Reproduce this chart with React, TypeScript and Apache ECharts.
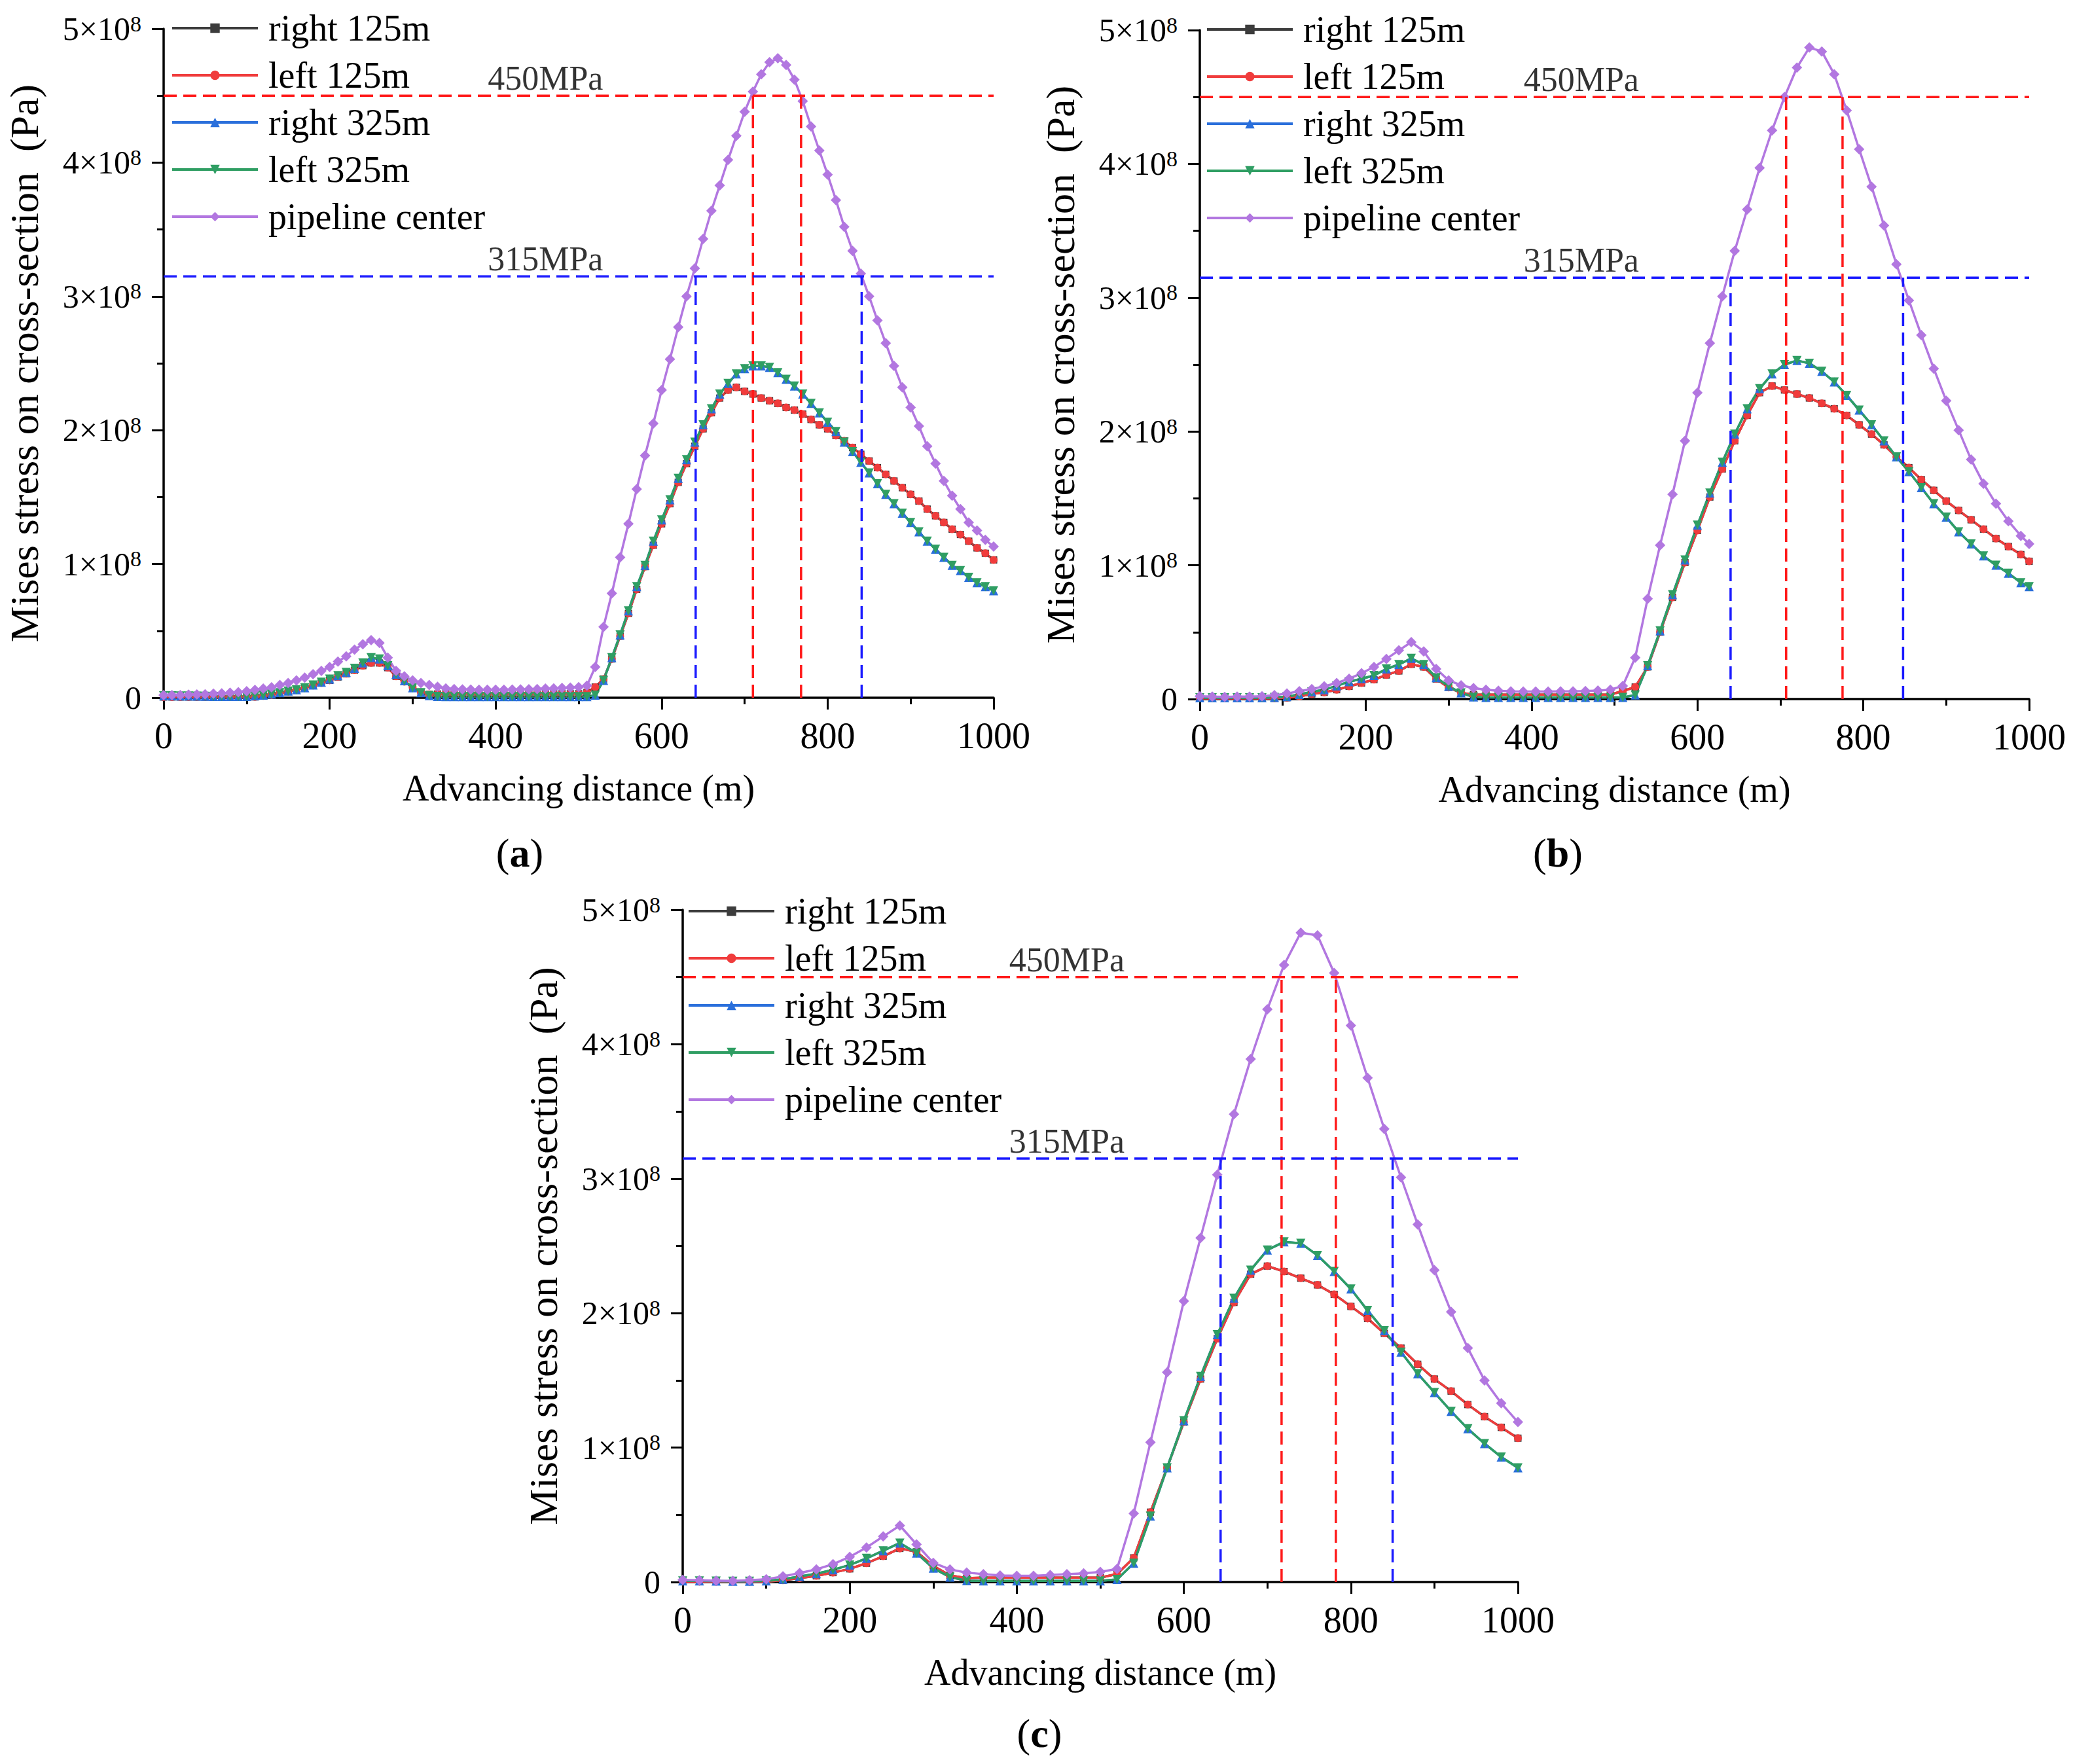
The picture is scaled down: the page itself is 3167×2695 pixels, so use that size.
import React, { useEffect, useRef } from "react";
import * as echarts from "echarts";

const FONT = "Liberation Serif";
const MPA = 1e6;

const seriesNames = ["right 125m", "left 125m", "right 325m", "left 325m", "pipeline center"];

// panel (a): sampled every 10 m, values in MPa
const distA = [
  0, 10, 20, 30, 40, 50, 60, 70, 80, 90,
  100, 110, 120, 130, 140, 150, 160, 170, 180, 190,
  200, 210, 220, 230, 240, 250, 260, 270, 280, 290,
  300, 310, 320, 330, 340, 350, 360, 370, 380, 390,
  400, 410, 420, 430, 440, 450, 460, 470, 480, 490,
  500, 510, 520, 530, 540, 550, 560, 570, 580, 590,
  600, 610, 620, 630, 640, 650, 660, 670, 680, 690,
  700, 710, 720, 730, 740, 750, 760, 770, 780, 790,
  800, 810, 820, 830, 840, 850, 860, 870, 880, 890,
  900, 910, 920, 930, 940, 950, 960, 970, 980, 990,
  1000,
];
const centerA = [
  2, 2, 2, 2.3, 2.5, 2.6, 3, 3.3, 3.8, 4.2,
  4.9, 5.9, 6.9, 7.8, 9.5, 11, 13, 15, 17.6, 20,
  23, 27, 31, 36, 40, 43, 41, 30, 20, 16,
  13, 11, 9.5, 8.2, 7, 6.5, 6.2, 6.1, 6, 6,
  6, 6, 6.1, 6.2, 6.3, 6.5, 6.8, 7, 7.3, 7.6,
  8, 9, 23, 53, 78, 105, 130, 156, 181, 205,
  230, 253, 277, 300, 321, 343, 364, 383, 402, 420,
  438, 453, 466, 475, 478, 473, 462, 446, 427, 409,
  391, 372, 352, 334, 317, 300, 282, 265, 248, 232,
  217, 203, 188, 175, 162, 151, 141, 131, 125, 118,
  113,
];
const left125A = [
  0.5, 0.5, 0.5, 0.5, 0.5, 0.5, 0.5, 0.5, 0.5, 0.5,
  0.5, 0.6, 1.3, 2, 3.3, 4.6, 5.9, 7.5, 9.2, 11,
  13, 15.5, 18, 20.6, 24, 26, 26, 22.5, 16, 12,
  7.8, 4.2, 2.5, 2.8, 3, 3, 3, 3, 3, 3,
  3, 3, 3, 3, 3, 3, 3, 3, 3, 3,
  3, 4, 8, 14, 29, 46, 63, 81, 98, 114,
  130, 145, 161, 175, 188, 201, 213, 224, 230, 232,
  229, 227, 224, 222, 220, 217, 215, 212, 208, 204,
  201, 196, 192, 187, 182, 177, 172, 167, 162, 157,
  152, 147, 141, 136, 131, 126, 122, 117, 112, 108,
  103,
];
const left325A = [
  1.5, 1.5, 1.4, 1.3, 1.2, 1.1, 1, 1, 1, 1,
  1, 1.5, 2, 2.8, 3.8, 5, 6, 7.5, 9.5, 11.6,
  14, 16.5, 19, 22, 26, 30, 29, 24, 17.6, 12.7,
  7.5, 3.8, 1.6, 1, 0.8, 0.8, 0.8, 0.8, 0.8, 0.8,
  0.8, 0.8, 0.8, 0.8, 0.8, 0.8, 0.8, 0.8, 0.8, 0.8,
  0.8, 0.8, 2, 13, 30, 47, 65, 83, 99, 117,
  133, 148, 164, 178, 191, 204, 216, 227, 235, 242,
  246, 248, 248, 247, 243, 238, 233, 227, 220, 213,
  206, 199, 191, 184, 176, 168, 160, 152, 145, 138,
  131, 124, 117, 111, 105, 99, 95, 90, 86, 83,
  80,
];
// right-side curves lie under the left-side ones in the figure
const right125A = left125A;
const right325A = left325A;
const cross315A = [641, 841];
const cross450A = [710, 768];

// panel (b): sampled every 15 m
const distB = [
  0, 15, 30, 45, 60, 75, 90, 105, 120, 135,
  150, 165, 180, 195, 210, 225, 240, 255, 270, 285,
  300, 315, 330, 345, 360, 375, 390, 405, 420, 435,
  450, 465, 480, 495, 510, 525, 540, 555, 570, 585,
  600, 615, 630, 645, 660, 675, 690, 705, 720, 735,
  750, 765, 780, 795, 810, 825, 840, 855, 870, 885,
  900, 915, 930, 945, 960, 975, 990, 1000,
];
const centerB = [
  2.1, 1.8, 1.6, 1.8, 1.8, 2.1, 2.9, 4.1, 5.9, 7.5,
  9.5, 12, 15.2, 19.3, 24, 30, 36.4, 42.6, 35.6, 22.5,
  14, 10.3, 8.2, 7, 6.2, 5.7, 5.6, 5.6, 5.6, 5.7,
  5.8, 6, 6.3, 7, 9.8, 31, 75, 115, 153, 193,
  229, 266, 301, 335, 366, 397, 425, 450, 472, 487,
  484, 467, 440, 411, 383, 354, 325, 298, 272, 247,
  223, 201, 179, 161, 146, 133, 122, 116,
];
const left125B = [
  0.5, 0.5, 0.5, 0.5, 0.5, 0.5, 0.5, 1, 2, 3.8,
  5, 7, 9.5, 12, 14.5, 18, 21, 26, 24, 15,
  8.7, 4.6, 3.3, 3.3, 3.3, 3.3, 3.3, 3.3, 3.3, 3.3,
  3.3, 3.3, 3.3, 3.3, 6, 9, 24, 50, 76, 102,
  126, 151, 172, 193, 212, 229, 234, 231, 228, 225,
  221, 217, 212, 205, 198, 190, 181, 173, 164, 156,
  148, 141, 134, 127, 120, 114, 108, 103,
];
const left325B = [
  1, 1, 1, 1, 1, 1, 1.2, 1.8, 3.4, 5.4,
  7, 9.8, 13, 15.2, 17.6, 22.5, 25.8, 30.4, 25.8, 16,
  9.5, 4.6, 1.6, 1.2, 1.2, 1.2, 1.2, 1.2, 1.2, 1.2,
  1.2, 1.2, 1.2, 1.2, 1.2, 3, 25, 51, 78, 104,
  130, 154, 177, 198, 217, 232, 243, 250, 253, 251,
  245, 237, 227, 216, 205, 193, 181, 170, 158, 146,
  136, 125, 116, 107, 100, 94, 87, 84,
];
const right125B = left125B;
const right325B = left325B;
const cross315B = [640, 848];
const cross450B = [707, 775];

// panel (c): sampled every 20 m
const distC = [
  0, 20, 40, 60, 80, 100, 120, 140, 160, 180,
  200, 220, 240, 260, 280, 300, 320, 340, 360, 380,
  400, 420, 440, 460, 480, 500, 520, 540, 560, 580,
  600, 620, 640, 660, 680, 700, 720, 740, 760, 780,
  800, 820, 840, 860, 880, 900, 920, 940, 960, 980,
  1000,
];
const centerC = [
  1.6, 1.3, 1, 0.8, 1.3, 2.1, 4.2, 6.7, 9.4, 13.3,
  18.7, 25.7, 33.9, 42, 28, 14.3, 9.4, 7, 5.9, 4.9,
  4.6, 4.6, 5.2, 5.9, 6.5, 7.5, 9.7, 51, 104, 156,
  209, 256, 303, 348, 389, 426, 459, 483, 481, 453,
  414, 375, 337, 301, 266, 232, 201, 174, 150, 133,
  119,
];
const left125C = [
  0.3, 0.3, 0.3, 0.3, 0.3, 0.3, 1.3, 2.9, 4.6, 7,
  9.8, 14, 19.2, 25, 22.5, 12, 4.9, 2.9, 3.3, 3.3,
  3.3, 3.3, 3.3, 3.3, 3.3, 3.3, 6, 18, 52, 85,
  119, 151, 181, 208, 229, 235, 231, 226, 221, 214,
  205, 196, 185, 174, 162, 151, 142, 132, 123, 115,
  107,
];
const left325C = [
  0.8, 0.8, 0.7, 0.6, 0.6, 0.8, 2.1, 4.2, 6.2, 9.1,
  12.7, 17.6, 23.3, 29, 21.6, 10.3, 3.7, 1, 0.8, 0.8,
  0.8, 0.8, 0.8, 0.8, 0.8, 0.8, 2, 14, 49, 85,
  120, 153, 184, 211, 232, 247, 253, 252, 243, 231,
  218, 202, 187, 171, 155, 141, 127, 114, 103, 93,
  85,
];
const right125C = left125C;
const right325C = left325C;
const cross315C = [644, 850];
const cross450C = [717, 782];

// threshold levels (MPa) and where their labels sit (m)
const levels = [450, 315];
const levelLabels = ["450MPa", "315MPa"];
const labelAt = 460;

const panels = [
  {
    key: "a",
    dist: distA,
    curves: [right125A, left125A, right325A, left325A, centerA],
    cross: [cross450A, cross315A],
    grid: { left: 250, top: 44, width: 1268, height: 1022 },
    legend: { left: 261, top: 15 },
    caption: [794, 1303],
  },
  {
    key: "b",
    dist: distB,
    curves: [right125B, left125B, right325B, left325B, centerB],
    cross: [cross450B, cross315B],
    grid: { left: 1833, top: 46, width: 1267, height: 1022 },
    legend: { left: 1842, top: 17 },
    caption: [2380, 1303],
  },
  {
    key: "c",
    dist: distC,
    curves: [right125C, left125C, right325C, left325C, centerC],
    cross: [cross450C, cross315C],
    grid: { left: 1043, top: 1390, width: 1276, height: 1027 },
    legend: { left: 1050, top: 1364 },
    caption: [1588, 2648],
  },
];

const curveStyle = [
  { color: "#3c3c3c", symbol: "rect", size: 11, rotate: 0 },
  { color: "#f03c3c", symbol: "circle", size: 12, rotate: 0 },
  { color: "#2a6fdb", symbol: "triangle", size: 14, rotate: 0 },
  { color: "#2f9e63", symbol: "triangle", size: 14, rotate: 180 },
  { color: "#b277e0", symbol: "diamond", size: 16, rotate: 0 },
];
const levelColors = ["#ff1a1a", "#1a1aff"];

const axisBase = {
  axisLine: { show: true, onZero: false, lineStyle: { color: "#000", width: 3.5 } },
  axisTick: { show: true, length: 18, lineStyle: { color: "#000", width: 3 } },
  minorTick: { show: true, splitNumber: 2, length: 10, lineStyle: { color: "#000", width: 3 } },
  splitLine: { show: false },
  minorSplitLine: { show: false },
};

function buildOption() {
  const grid: any[] = [];
  const xAxis: any[] = [];
  const yAxis: any[] = [];
  const legend: any[] = [];
  const series: any[] = [];
  const graphic: any[] = [];

  panels.forEach((p, idx) => {
    grid.push({ ...p.grid, containLabel: false });
    xAxis.push({
      ...axisBase,
      type: "value",
      gridIndex: idx,
      min: 0,
      max: 1000,
      interval: 200,
      name: "Advancing distance (m)",
      nameLocation: "middle",
      nameGap: 110,
      nameTextStyle: { fontSize: 56, fontFamily: FONT, color: "#000" },
      axisLabel: {
        fontSize: 56,
        fontFamily: FONT,
        color: "#000",
        margin: 30,
        formatter: (v: number) => String(v),
      },
    });
    yAxis.push({
      ...axisBase,
      type: "value",
      gridIndex: idx,
      min: 0,
      max: 5e8,
      interval: 1e8,
      name: "Mises stress on cross-section  (Pa)",
      nameLocation: "middle",
      nameGap: 182,
      nameTextStyle: { fontSize: 62, fontFamily: FONT, color: "#000" },
      axisLabel: {
        margin: 34,
        fontSize: 50,
        fontFamily: FONT,
        color: "#000",
        formatter: (v: number) => (v === 0 ? "0" : `{b|${Math.round(v / 1e8)}×10}{s|8}`),
        rich: {
          b: { fontSize: 50, fontFamily: FONT, color: "#000", lineHeight: 50 },
          s: { fontSize: 34, fontFamily: FONT, color: "#000", lineHeight: 34, verticalAlign: "top" },
        },
      },
    });
    legend.push({
      orient: "vertical",
      left: p.legend.left,
      top: p.legend.top,
      padding: 0,
      itemWidth: 131,
      itemHeight: 18,
      itemGap: 16,
      selectedMode: false,
      data: seriesNames,
      lineStyle: { width: 4 },
      textStyle: { fontSize: 56, lineHeight: 56, fontFamily: FONT, color: "#000", padding: [0, 0, 0, 11] },
    });

    seriesNames.forEach((name, k) => {
      const st = curveStyle[k];
      series.push({
        type: "line",
        name,
        xAxisIndex: idx,
        yAxisIndex: idx,
        data: p.dist.map((d, i) => [d, p.curves[k][i] * MPA]),
        symbol: st.symbol,
        symbolSize: st.size,
        symbolRotate: st.rotate,
        showAllSymbol: true,
        lineStyle: { color: st.color, width: 3.5 },
        itemStyle: { color: st.color },
        z: 2,
      });
    });

    levels.forEach((lv, j) => {
      const dash = { color: levelColors[j], width: 3.5, type: [20, 10] };
      series.push({
        type: "line",
        xAxisIndex: idx,
        yAxisIndex: idx,
        data: [[0, lv * MPA], [1000, lv * MPA]],
        symbol: "none",
        silent: true,
        lineStyle: dash,
        z: 4,
      });
      p.cross[j].forEach((x) => {
        series.push({
          type: "line",
          xAxisIndex: idx,
          yAxisIndex: idx,
          data: [[x, 0], [x, lv * MPA]],
          symbol: "none",
          silent: true,
          lineStyle: dash,
          z: 4,
        });
      });
      series.push({
        type: "scatter",
        xAxisIndex: idx,
        yAxisIndex: idx,
        data: [[labelAt, lv * MPA]],
        symbolSize: 1,
        silent: true,
        itemStyle: { color: "rgba(0,0,0,0)" },
        label: {
          show: true,
          position: "top",
          distance: 0,
          formatter: levelLabels[j],
          fontSize: 52,
          fontFamily: FONT,
          color: "#000",
        },
        z: 5,
      });
    });

    graphic.push({
      type: "text",
      x: p.caption[0],
      y: p.caption[1],
      style: {
        text: `({bd|${p.key}})`,
        fontSize: 62,
        fontFamily: FONT,
        fill: "#000",
        align: "center",
        verticalAlign: "middle",
        rich: { bd: { fontSize: 62, fontFamily: FONT, fontWeight: "bold", fill: "#000" } },
      },
    });
  });

  return {
    animation: false,
    backgroundColor: "#fff",
    textStyle: { fontFamily: FONT },
    grid,
    xAxis,
    yAxis,
    legend,
    series,
    graphic,
  };
}

export default function App() {
  const ref = useRef<HTMLDivElement>(null);
  useEffect(() => {
    if (!ref.current) return;
    const chart = echarts.init(ref.current, undefined, { renderer: "svg" });
    chart.setOption(buildOption());
    return () => chart.dispose();
  }, []);
  return (
    <div
      ref={ref}
      style={{ position: "absolute", left: 0, top: 0, width: 3167, height: 2695, background: "#fff" }}
    />
  );
}
